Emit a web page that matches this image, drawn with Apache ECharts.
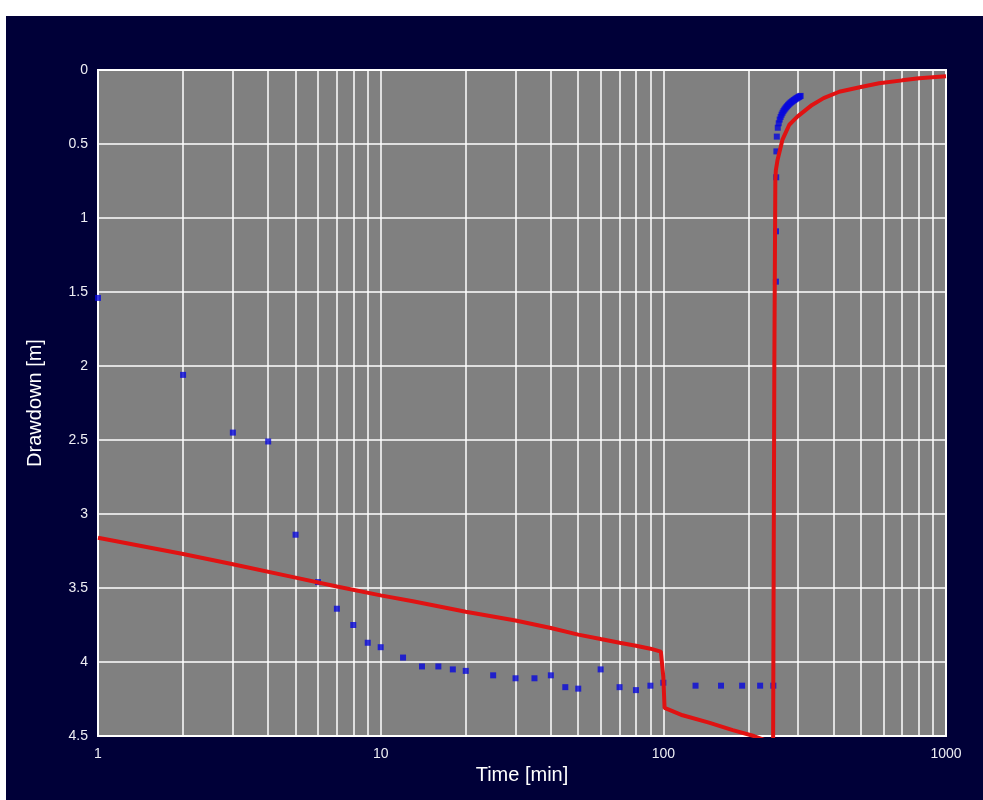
<!DOCTYPE html>
<html>
<head>
<meta charset="utf-8">
<script src="https://cdn.jsdelivr.net/npm/echarts@6/dist/echarts.min.js"></script>
<style>
html,body{margin:0;padding:0;background:#ffffff;width:983px;height:800px;overflow:hidden;}
#chart{position:absolute;left:6px;top:16px;width:977px;height:784px;}
</style>
</head>
<body>
<div id="chart"></div>
<script>
// Observed drawdown (blue squares)
var obsTime = [1,2,3,4,5,6,7,8,9,10,12,14,16,18,20,25,30,35,40,45,50,60,70,80,90,100,
  130,160,190,220,245,
  250.2,250.4,250.8,251.2,
  252,254,256,258,260,262,264,266,268,270,272,274,276,278,280,282,284,286,288,290,292,294,296,298,300,302,304,306];
var obsDrawdown = [1.54,2.06,2.45,2.51,3.14,3.46,3.64,3.75,3.87,3.90,3.97,4.03,4.03,4.05,4.06,4.09,4.11,4.11,4.09,4.17,4.18,4.05,4.17,4.19,4.16,4.14,
  4.16,4.16,4.16,4.16,4.16,
  1.43,1.09,0.725,0.55,
  0.45,0.39,0.36,0.335,0.317,0.302,0.289,0.278,0.268,0.26,0.252,0.245,0.238,0.232,0.226,0.221,0.216,0.211,0.207,0.203,0.199,0.195,0.191,0.188,0.184,0.181,0.178,0.175];

// Calculated drawdown (red line)
var calcTime = [1,2,3,5,7,10,13,20,30,40,50,60,70,80,90,98,100,101,117,145,176,209,230,244.5,247,249,250,253.4,264,279,298,336,369,419,500,580,700,803,1000];
var calcDrawdown = [3.16,3.27,3.34,3.43,3.49,3.55,3.59,3.66,3.72,3.77,3.815,3.845,3.87,3.89,3.91,3.93,4.1,4.31,4.36,4.41,4.46,4.5,4.53,4.6,2.0,0.75,0.68,0.61,0.47,0.37,0.315,0.236,0.19,0.147,0.115,0.09,0.07,0.056,0.042];

// Axis settings
var xTicks = [1,10,100,1000];
var minorGridX = [2,3,4,5,6,7,8,9,20,30,40,50,60,70,80,90,200,300,400,500,600,700,800,900];
var xTitle = 'Time [min]';
var yTitle = 'Drawdown [m]';

var obsData = obsTime.map(function(t,i){return [t, obsDrawdown[i]];});
var calcData = calcTime.map(function(t,i){return [t, calcDrawdown[i]];});

var chart = echarts.init(document.getElementById('chart'));
var labelStyle = {color:'#eeeef4', fontFamily:'Liberation Sans, Arial, sans-serif', fontSize:14};
chart.setOption({
  backgroundColor:'#000038',
  animation:false,
  grid:{left:92, right:37, top:54, bottom:64, show:true, backgroundColor:'#808080', borderColor:'#ffffff', borderWidth:2},
  xAxis:{
    type:'log', logBase:10, min:xTicks[0], max:xTicks[xTicks.length-1],
    name:xTitle, nameLocation:'middle', nameGap:29,
    nameTextStyle:{color:'#ffffff', fontFamily:'Liberation Sans, Arial, sans-serif', fontSize:20},
    axisLine:{lineStyle:{color:'#ffffff', width:2}},
    axisTick:{show:false},
    axisLabel:Object.assign({margin:11, formatter:function(v){return String(Math.round(v));}}, labelStyle),
    splitLine:{show:true, lineStyle:{color:'#ffffff', width:1.5}}
  },
  yAxis:{
    type:'value', inverse:true, min:0, max:4.5, interval:0.5,
    name:yTitle, nameLocation:'middle', nameGap:53,
    nameTextStyle:{color:'#ffffff', fontFamily:'Liberation Sans, Arial, sans-serif', fontSize:20},
    axisLine:{show:true, lineStyle:{color:'#ffffff', width:2}},
    axisTick:{show:false},
    axisLabel:Object.assign({margin:10}, labelStyle),
    splitLine:{show:true, lineStyle:{color:'#ffffff', width:1.5}}
  },
  series:[
    {
      type:'line', data:[], z:0, silent:true,
      markLine:{
        z:0, silent:true, symbol:['none','none'], label:{show:false}, animation:false,
        lineStyle:{color:'#ffffff', width:1.5, type:'solid'},
        emphasis:{disabled:true},
        data:minorGridX.map(function(v){return {xAxis:v};})
      }
    },
    {
      type:'scatter', data:obsData, symbol:'rect', symbolSize:6, z:10,
      itemStyle:{color:'#0808dc'}
    },
    {
      type:'line', data:calcData, showSymbol:false, symbol:'none', z:11, clip:true,
      lineStyle:{color:'#e01212', width:4}
    }
  ]
});
</script>
</body>
</html>
